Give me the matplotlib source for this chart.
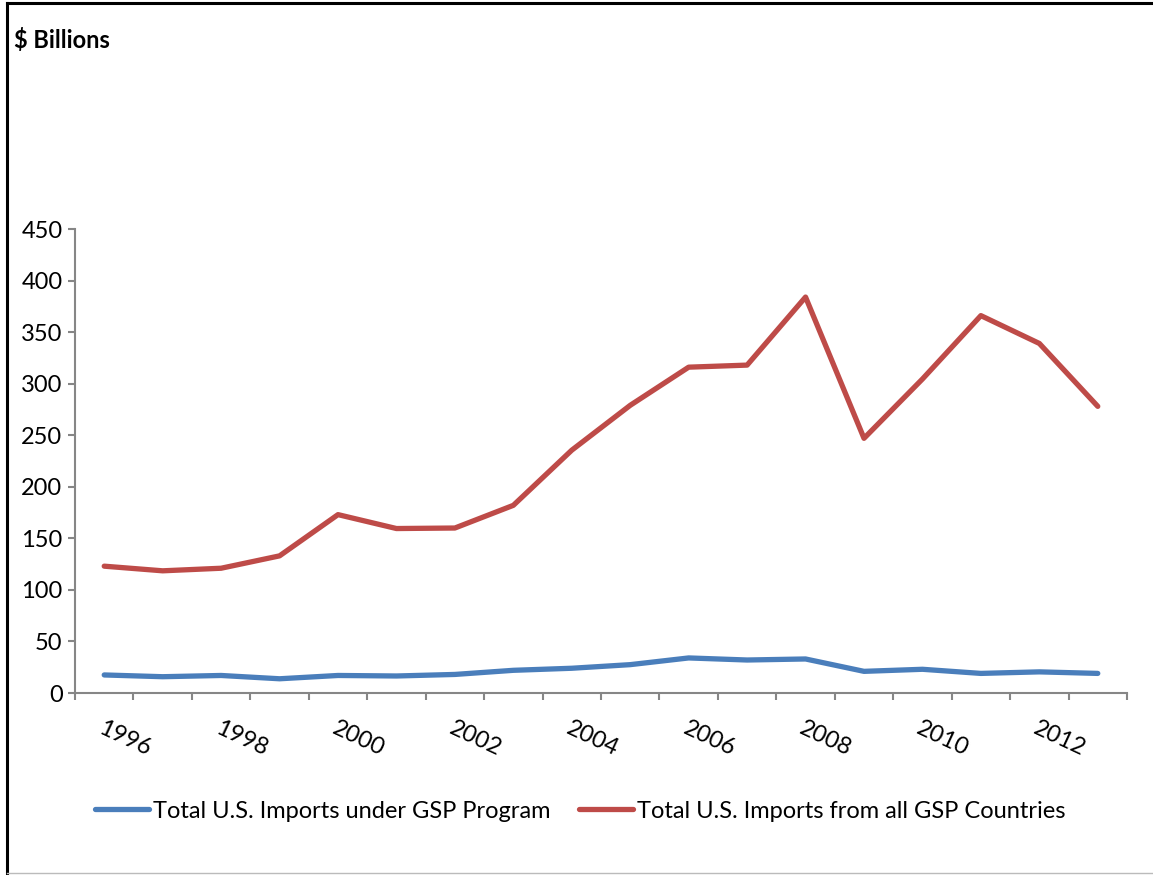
import matplotlib
matplotlib.use('Agg')
import matplotlib.pyplot as plt
from matplotlib.lines import Line2D
import numpy as np

plt.rcParams['font.family'] = ['Lato', 'DejaVu Sans']

years = list(range(1996, 2014))
gsp_program = [17.5, 15.8, 17.0, 13.8, 17.0, 16.5, 18.0, 22.0, 24.0, 27.5,
               34.0, 32.0, 33.0, 21.0, 23.0, 19.0, 20.5, 19.0]
gsp_countries = [123, 118.5, 121, 133, 173, 159.5, 160, 182, 235.5, 279,
                 316, 318, 384, 247, 304.5, 366, 339, 278]
label_years = [str(y) if (y - 1996) % 2 == 0 else '' for y in years]

W, H = 1153, 875
fig = plt.figure(figsize=(W / 100, H / 100), dpi=100)
ax = fig.add_axes([75 / W, (H - 693) / H, (1127 - 75) / W, (693 - 229) / H])

x = np.arange(len(years))
ax.plot(x, gsp_program, color='#4A7EBB', lw=3.8, solid_capstyle='round',
        solid_joinstyle='round', label='Total U.S. Imports under GSP Program')
ax.plot(x, gsp_countries, color='#BE4B48', lw=3.8, solid_capstyle='round',
        solid_joinstyle='round', label='Total U.S. Imports from all GSP Countries')

ax.set_xlim(-0.5, len(years) - 0.5)
ax.set_ylim(0, 450)
ax.set_yticks(np.arange(0, 451, 50))

gray = '#868686'
for s in ['top', 'right']:
    ax.spines[s].set_visible(False)
for s in ['left', 'bottom']:
    ax.spines[s].set_color(gray)
    ax.spines[s].set_linewidth(1.5)

ax.tick_params(axis='y', direction='out', length=5, width=1.5, color=gray,
               labelsize=17, pad=4)
ax.set_xticks(x)
ax.set_xticklabels(label_years, rotation=-25, ha='left', va='top',
                   rotation_mode='anchor')
ax.tick_params(axis='x', which='major', length=0, labelsize=17, pad=18)
ax.set_xticks(np.arange(-0.5, len(years)), minor=True)
ax.tick_params(axis='x', which='minor', direction='out', length=5, width=1.5,
               color=gray)

fig.text(14 / W, 1 - 40 / H, '$ Billions', fontsize=17, fontweight='bold',
         ha='left', va='center')

leg = fig.legend(loc='center', bbox_to_anchor=(580 / W, 1 - 811 / H), ncol=2,
                 frameon=False, fontsize=17, handlelength=2.3,
                 handletextpad=0.15, columnspacing=1.2)

# outer border
fig.add_artist(Line2D([7 / W, 7 / W], [0, 1 - 3 / H], color='black', lw=2.2))
fig.add_artist(Line2D([7 / W, 1], [1 - 3 / H, 1 - 3 / H], color='black', lw=2.2))
fig.add_artist(Line2D([7 / W, 1], [2 / H, 2 / H], color='#BBBBBB', lw=1))

fig.savefig('out.png', dpi=100)
